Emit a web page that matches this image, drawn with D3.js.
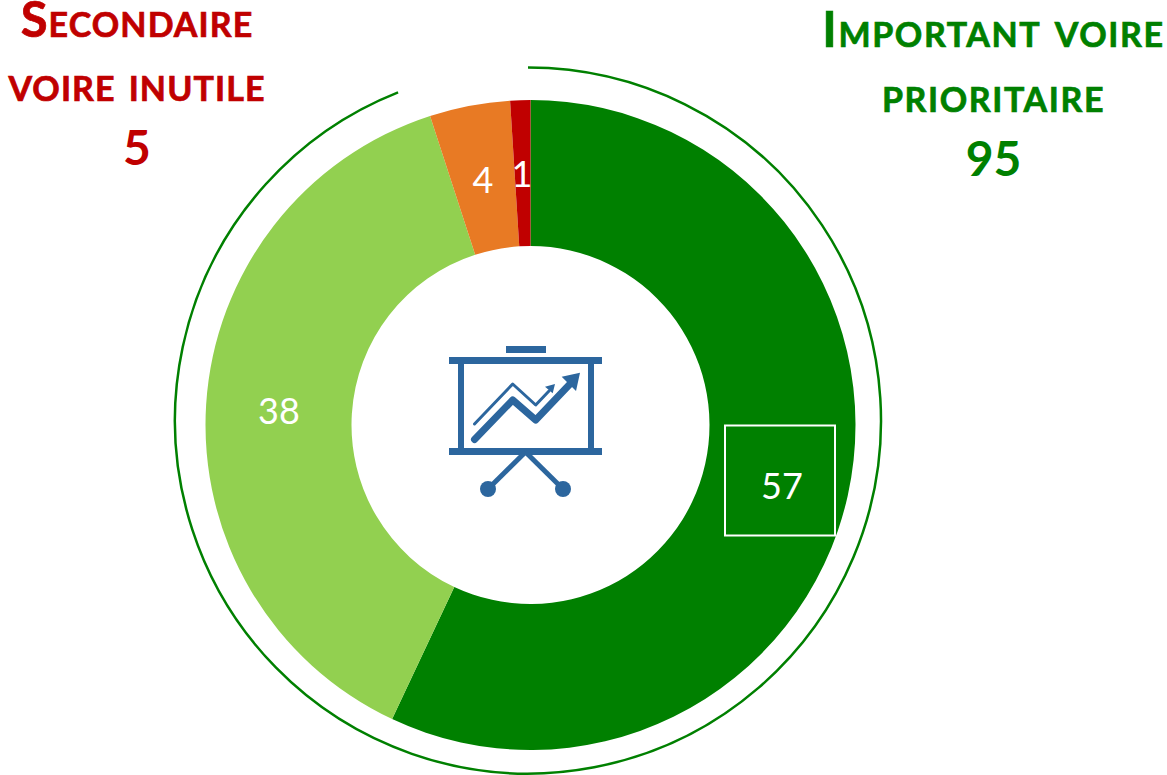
<!DOCTYPE html>
<html lang="fr"><head><meta charset="utf-8">
<script src="https://cdn.jsdelivr.net/npm/d3@7/dist/d3.min.js"></script>
<style>
html,body{margin:0;padding:0;background:#fff}
svg{display:block}
text{font-family:Lato,"Open Sans",sans-serif}
</style></head><body>
<svg id="chart" width="1167" height="775"></svg>
<script>
const categories = ["Essentiel", "Important", "Secondaire", "Inutile"];
const values = [57, 38, 4, 1];
const colors = ["#008000", "#92D050", "#E87A24", "#C00000"];
const groupTotals = [95, 5];
const groupLines = [["Important voire", "prioritaire"], ["Secondaire", "voire inutile"]];
const groupColors = ["#008000", "#C00000"];
const ringShare = 94;

const W = 1167, H = 775;
const svg = d3.select("#chart");
const cx = 530.5, cy = 425, rOuter = 325, rInner = 179;

const pie = d3.pie().sort(null).value(d => d)(values);
const arc = d3.arc().innerRadius(rInner).outerRadius(rOuter);
const g = svg.append("g").attr("transform", `translate(${cx},${cy})`);
g.selectAll("path").data(pie).join("path")
  .attr("d", arc).attr("fill", (d, i) => colors[i]);

// Surrounding ring
const angle = d3.scaleLinear().domain([0, 100]).range([0, 2 * Math.PI]);
svg.append("path")
  .attr("transform", "translate(528,420.5)")
  .attr("d", d3.arc().innerRadius(353).outerRadius(353)({startAngle: angle(0), endAngle: angle(ringShare)}))
  .attr("fill", "none").attr("stroke", "#008000").attr("stroke-width", 2.5);

// Value labels
const labelPos = [[782, 485], [279, 410], [483, 179], [522, 173]];
svg.selectAll("text.val").data(values).join("text").attr("class", "val")
  .attr("x", (d, i) => labelPos[i][0]).attr("y", (d, i) => labelPos[i][1])
  .attr("text-anchor", "middle").attr("dominant-baseline", "central")
  .attr("fill", "#fff").attr("font-size", 36).text(d => d);
svg.append("rect").attr("x", 725).attr("y", 425.5).attr("width", 110).attr("height", 110)
  .attr("fill", "none").attr("stroke", "#fff").attr("stroke-width", 2);

// Titles
const titlePos = [[993.5, [47, 112], 176], [137, [37, 101], 165]];
const titleSpacing = [1.6, 1.1];
groupLines.forEach((lines, k) => {
  lines.forEach((t, i) => svg.append("text")
    .attr("x", titlePos[k][0]).attr("y", titlePos[k][1][i])
    .attr("text-anchor", "middle").attr("fill", groupColors[k])
    .attr("stroke", groupColors[k]).attr("stroke-width", 0.7)
    .attr("font-weight", 700).attr("font-size", 49)
    .style("letter-spacing", titleSpacing[k] + "px")
    .style("font-variant", "small-caps").text(t));
  svg.append("text").attr("x", titlePos[k][0]).attr("y", titlePos[k][2])
    .attr("text-anchor", "middle").attr("fill", groupColors[k])
    .attr("font-weight", 700).attr("font-size", 48).text(groupTotals[k]);
});

// Presentation icon
const blue = "#2C669E";
const icon = svg.append("g");
[[506,346,40,7],[449,357,153,7],[449,448,153,7],[458,364,6,84],[588,364,6,84]].forEach(r =>
  icon.append("rect").attr("x", r[0]).attr("y", r[1]).attr("width", r[2]).attr("height", r[3]).attr("fill", blue));
const line = d3.line();
const strokes = [
  [[[525.5,452],[488,489]], 5, "butt"],
  [[[525.5,452],[563,489]], 5, "butt"],
  [[[474.5,439.5],[512.7,400],[535.7,420],[570,384]], 7, "round"],
  [[[474.5,424],[512.7,384],[535.7,405],[549,391]], 3, "round"]
];
strokes.forEach(s => icon.append("path").attr("d", line(s[0])).attr("fill", "none")
  .attr("stroke", blue).attr("stroke-width", s[1]).attr("stroke-linecap", s[2]).attr("stroke-linejoin", "round"));
[[[580,372.7],[561.7,376.7],[576,391]], [[555,384],[545,386.7],[552.7,393.3]]].forEach(p =>
  icon.append("path").attr("d", line(p) + "Z").attr("fill", blue));
[[488,489],[563,489]].forEach(c =>
  icon.append("circle").attr("cx", c[0]).attr("cy", c[1]).attr("r", 8).attr("fill", blue));
</script>
</body></html>
